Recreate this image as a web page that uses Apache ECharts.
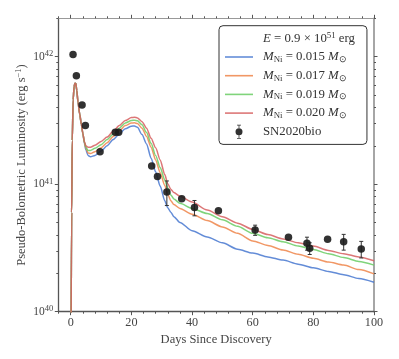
<!DOCTYPE html>
<html><head><meta charset="utf-8">
<script src="https://cdn.jsdelivr.net/npm/echarts@6/dist/echarts.min.js"></script>
<style>html,body{margin:0;padding:0;background:#fff}#c{width:399px;height:359px}</style>
</head><body><div id="c"></div>
<script>
const FONT = 'Liberation Serif';

// model light curves (days since discovery, luminosity erg/s)
const modelDays = [0.1, 0.3, 0.5, 0.8, 1.1, 1.4, 1.7, 2.0, 2.4, 3.0, 3.5, 4.0,
  4.5, 5.0, 5.7, 6.5, 8, 10, 12, 14, 16, 18, 20, 21, 22, 23.5, 25, 26.5, 28, 29.5, 31, 32, 33, 34, 36,
  40, 45, 50, 55, 60, 65, 70, 75, 80, 85, 90, 95, 100];
const earlyLum = [5e39, 6e40, 2.2e41, 4.6e41, 5.8e41, 6.2e41, 6.15e41, 5.4e41, 4.4e41, 3.5e41, 2.95e41, 2.5e41];
const lumNi015 = [2.09e41, 1.86e41, 1.68e41, 1.64e41, 1.68e41, 1.82e41, 2.0e41, 2.24e41, 2.48e41, 2.72e41, 2.85e41, 2.86e41,
  2.79e41, 2.45e41, 2.07e41, 1.60e41, 1.25e41, 9.66e40, 7.41e40, 6.53e40, 6.03e40, 5.56e40, 5.01e40,
  4.32e40, 3.86e40, 3.47e40, 3.09e40, 2.88e40, 2.69e40, 2.54e40, 2.36e40, 2.21e40, 2.07e40, 1.95e40, 1.82e40, 1.70e40];
const lumNi017 = [2.11e41, 1.91e41, 1.76e41, 1.74e41, 1.80e41, 1.93e41, 2.11e41, 2.37e41, 2.63e41, 2.88e41, 3.02e41, 3.03e41,
  2.99e41, 2.75e41, 2.37e41, 1.95e41, 1.55e41, 1.23e41, 9.77e40, 8.32e40, 7.41e40, 6.92e40, 6.46e40,
  5.82e40, 5.19e40, 4.62e40, 4.12e40, 3.59e40, 3.31e40, 3.05e40, 2.82e40, 2.62e40, 2.45e40, 2.32e40, 2.14e40, 1.98e40];
const lumNi019 = [2.14e41, 1.95e41, 1.84e41, 1.84e41, 1.91e41, 2.04e41, 2.24e41, 2.48e41, 2.75e41, 3.02e41, 3.16e41, 3.18e41,
  3.14e41, 2.92e41, 2.54e41, 2.09e41, 1.68e41, 1.35e41, 1.08e41, 9.33e40, 8.22e40, 7.67e40, 7.08e40,
  6.46e40, 5.89e40, 5.25e40, 4.68e40, 4.12e40, 3.80e40, 3.54e40, 3.27e40, 3.07e40, 2.85e40, 2.66e40, 2.48e40, 2.32e40];
const lumNi020 = [2.16e41, 2.0e41, 1.95e41, 1.95e41, 2.02e41, 2.16e41, 2.34e41, 2.60e41, 2.88e41, 3.16e41, 3.33e41, 3.35e41,
  3.31e41, 3.09e41, 2.75e41, 2.29e41, 1.93e41, 1.55e41, 1.19e41, 1.01e41, 9.12e40, 8.61e40, 8.04e40,
  7.24e40, 6.27e40, 5.56e40, 4.95e40, 4.42e40, 4.03e40, 3.72e40, 3.47e40, 3.27e40, 3.02e40, 2.85e40, 2.69e40, 2.51e40];

// observed SN2020bio
const obsDays = [0.76, 1.86, 3.73, 4.83, 9.66, 14.7, 15.8, 26.7, 28.6, 31.7, 36.6, 40.8, 48.7, 60.8, 71.8, 77.9, 78.8, 84.7, 90.0, 95.8];
const obsLum = [1.04e42, 7.1e41, 4.18e41, 2.88e41, 1.8e41, 2.55e41, 2.55e41, 1.39e41, 1.15e41, 8.7e40, 7.7e40, 6.55e40, 6.2e40, 4.37e40, 3.84e40, 3.44e40, 3.14e40, 3.7e40, 3.54e40, 3.1e40];
const obsErr = [0, 0, 0, 0, 0, 0, 0, 0, 0, 1.9e40, 0, 0.9e40, 0, 0.4e40, 0, 0.4e40, 0.33e40, 0, 0.5e40, 0.46e40];

// ticks
const xMajorTicks = [0, 20, 40, 60, 80, 100];
const xMinorTicks = [-4, 4, 8, 12, 16, 24, 28, 32, 36, 44, 48, 52, 56, 64, 68, 72, 76, 84, 88, 92, 96];
const yMajorExp = [40, 41, 42];
const yMinorMant = [2, 3, 4, 5, 6, 7, 8, 9];

const modelNames = ['Ni015', 'Ni017', 'Ni019', 'Ni020'];
const modelMass = ['0.015', '0.017', '0.019', '0.020'];
const modelColors = ['rgba(72,120,208,0.85)', 'rgba(238,133,74,0.85)', 'rgba(106,204,100,0.85)', 'rgba(214,95,95,0.85)'];
const modelLums = [lumNi015, lumNi017, lumNi019, lumNi020];

const legendLabels = {
  E: '{g|}{i|E} = 0.9 × 10{sup|51} erg',
  SN2020bio: '{g|}SN2020bio'
};
modelNames.forEach((n, i) => {
  legendLabels[n] = '{g|}{i|M}{sub|Ni} = ' + modelMass[i] + ' {i|M}{sub|⊙}';
});

const yMax = 2e42;
const yMaxLog = Math.log10(yMax);
const yMinorLog = [];
[40, 41].forEach(e => yMinorMant.forEach(m => yMinorLog.push(Math.log10(m) + e)));
yMinorLog.push(yMaxLog);

const LFS = 12.8;
const richBase = {
  i: { fontFamily: FONT, fontStyle: 'italic', fontSize: LFS, color: '#333', lineHeight: 14 },
  sub: { fontFamily: FONT, fontSize: 8.8, color: '#333', verticalAlign: 'bottom', lineHeight: 7 },
  sup: { fontFamily: FONT, fontSize: 8.8, color: '#333', verticalAlign: 'top', lineHeight: 7 },
  g: { width: 5, fontFamily: FONT, fontSize: LFS, lineHeight: 14 }
};

const chart = echarts.init(document.getElementById('c'), null, { renderer: 'canvas' });

const gridPos = { left: 58.3, right: 25, top: 18.3, bottom: 47.3 };
const tickStyle = { color: '#555', width: 1 };

function xAx(pos, ticks, len, line, labels, extra) {
  return Object.assign({
    type: 'value', position: pos, min: -4.1, max: 100,
    axisLine: line ? { show: true, onZero: false, lineStyle: line } : { show: false, onZero: false },
    axisTick: { show: true, customValues: ticks, length: len, lineStyle: tickStyle },
    axisLabel: labels ? { show: true, customValues: xMajorTicks, fontFamily: FONT, fontSize: 12.2, color: '#444', margin: 5 } : { show: false },
    splitLine: { show: false }
  }, extra || {});
}
function yAx(pos, ticks, len, labels) {
  return {
    type: 'value', position: pos, min: 40, max: yMaxLog,
    axisLine: { show: false, onZero: false },
    axisTick: { show: true, customValues: ticks, length: len, lineStyle: tickStyle },
    axisLabel: labels ? {
      show: true, customValues: yMajorExp, margin: 5,
      formatter: v => '10{sup|' + Math.round(v) + '}',
      fontFamily: FONT, fontSize: 11.5, color: '#444', lineHeight: 14,
      rich: { sup: { fontFamily: FONT, fontSize: 8.5, color: '#444', verticalAlign: 'top', lineHeight: 7 } }
    } : { show: false },
    splitLine: { show: false }
  };
}

const series = [];
series.push({ name: 'E', type: 'line', data: [], symbol: 'none', lineStyle: { color: 'rgba(0,0,0,0)' }, itemStyle: { color: 'rgba(0,0,0,0)' } });
modelNames.forEach((n, i) => {
  const lums = earlyLum.concat(modelLums[i]);
  series.push({
    name: n, type: 'line', symbol: 'none', smooth: 0.25, smoothMonotone: 'x', z: 2,
    color: modelColors[i],
    lineStyle: { color: modelColors[i], width: 1.5 },
    itemStyle: { color: modelColors[i] },
    data: modelDays.map((d, k) => [d, lums[k]])
  });
});
series.push({
  name: 'SN2020bio', type: 'scatter', symbol: 'circle', symbolSize: 7.5, z: 4,
  itemStyle: { color: '#1c1c1c', opacity: 0.9 },
  data: obsDays.map((d, k) => [d, obsLum[k]])
});
series.push({
  name: 'errbars', type: 'custom', z: 3,
  data: obsDays.map((d, k) => [d, obsLum[k], obsErr[k]]).filter(r => r[2] > 0),
  renderItem: (params, api) => {
    const x = api.value(0), y = api.value(1), e = api.value(2);
    const hi = api.coord([x, y + e]), lo = api.coord([x, y - e]);
    const st = { stroke: '#333', lineWidth: 1 };
    const cw = 2;
    return { type: 'group', children: [
      { type: 'line', shape: { x1: hi[0], y1: hi[1], x2: lo[0], y2: lo[1] }, style: st },
      { type: 'line', shape: { x1: hi[0] - cw, y1: hi[1], x2: hi[0] + cw, y2: hi[1] }, style: st },
      { type: 'line', shape: { x1: lo[0] - cw, y1: lo[1], x2: lo[0] + cw, y2: lo[1] }, style: st }
    ] };
  }
});

const lineIcon = 'path://M0,0H28V1.6H0Z';
const snIcon = 'path://M3.1,0H3.9V14H3.1Z M1.5,0H5.5V0.8H1.5Z M1.5,13.2H5.5V14H1.5Z M0,7A3.5,3.5,0,1,1,7,7A3.5,3.5,0,1,1,0,7Z';

chart.setOption({
  animation: false,
  backgroundColor: '#fff',
  textStyle: { fontFamily: FONT },
  grid: gridPos,
  legend: {
    orient: 'vertical', left: 219, top: 25.7,
    padding: [5.6, 12, 5.6, 5],
    itemWidth: 28, itemHeight: 14, itemGap: 4.7,
    backgroundColor: '#fff', borderColor: '#333', borderWidth: 1, borderRadius: 4,
    selectedMode: false,
    formatter: name => legendLabels[name],
    textStyle: { fontFamily: FONT, fontSize: LFS, color: '#333', lineHeight: 14, rich: richBase },
    data: [
      { name: 'E' },
      { name: 'Ni015', icon: lineIcon },
      { name: 'Ni017', icon: lineIcon },
      { name: 'Ni019', icon: lineIcon },
      { name: 'Ni020', icon: lineIcon },
      { name: 'SN2020bio', icon: snIcon }
    ]
  },
  xAxis: [
    xAx('bottom', xMajorTicks, 3.5, { color: '#555', width: 1.3 }, true, {
      name: 'Days Since Discovery', nameLocation: 'middle', nameGap: 18,
      nameTextStyle: { fontFamily: FONT, fontSize: 12.5, color: '#444' }
    }),
    xAx('bottom', xMinorTicks, 2, null, false),
    xAx('top', xMajorTicks, 3.5, { color: '#999', width: 1.1 }, false),
    xAx('top', xMinorTicks, 2, null, false)
  ],
  yAxis: [
    {
      type: 'log', logBase: 10, position: 'left', min: 1e40, max: yMax,
      axisLine: { show: true, onZero: false, lineStyle: { color: '#555', width: 1.3 } },
      axisTick: { show: false }, axisLabel: { show: false }, splitLine: { show: false },
      name: 'Pseudo-Bolometric Luminosity (erg s{sup|−1})', nameLocation: 'middle', nameGap: 30,
      nameTextStyle: { fontFamily: FONT, fontSize: 12.5, color: '#444', lineHeight: 14,
        rich: { sup: { fontFamily: FONT, fontSize: 8.5, color: '#444', verticalAlign: 'top', lineHeight: 7 } } }
    },
    yAx('left', yMajorExp, 3.5, true),
    yAx('left', yMinorLog, 2, false),
    Object.assign(yAx('right', yMajorExp, 3.5, false), { axisLine: { show: true, onZero: false, lineStyle: { color: '#888', width: 1.5 } } }),
    yAx('right', yMinorLog, 2, false)
  ],
  series: series
});
</script></body></html>
